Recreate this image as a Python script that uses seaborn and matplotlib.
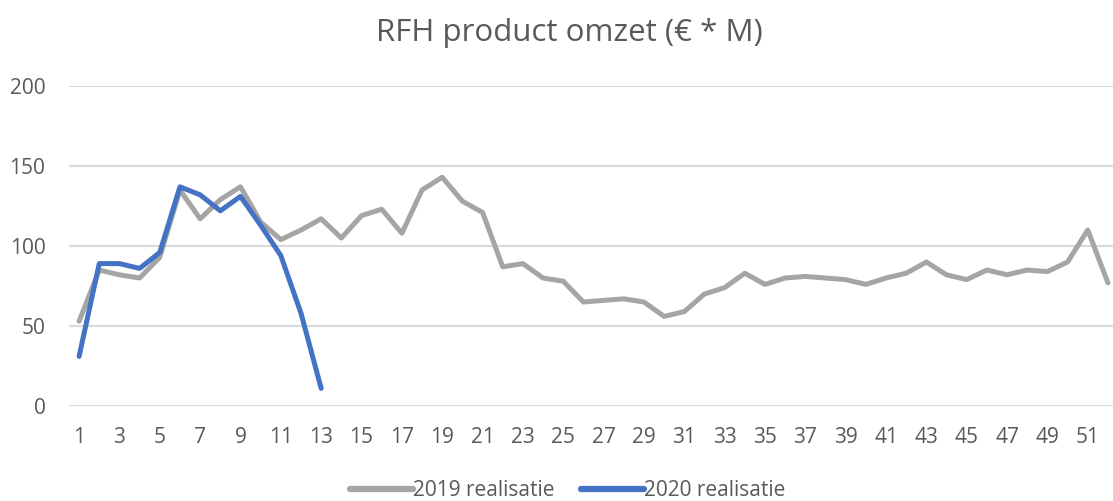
# RFH product omzet per week, 2019 vs 2020

# importing libraries
import matplotlib
matplotlib.use('Agg')
import matplotlib.pyplot as plt
import pandas as pd
import seaborn as sns

weeks = list(range(1, 53))

omzet_2019 = [53, 85, 82, 80, 93, 135, 117, 129, 137, 115,
              104, 110, 117, 105, 119, 123, 108, 135, 143, 128,
              121, 87, 89, 80, 78, 65, 66, 67, 65, 56,
              59, 70, 74, 83, 76, 80, 81, 80, 79, 76,
              80, 83, 90, 82, 79, 85, 82, 85, 84, 90,
              110, 77]

weeks_2020 = list(range(1, 14))
omzet_2020 = [31, 89, 89, 86, 96, 137, 132, 122, 131, 113, 94, 58, 11]

label_2019 = '2019 realisatie'
label_2020 = '2020 realisatie'
title = 'RFH product omzet (€ * M)'

df = pd.concat([
    pd.DataFrame({'Week': weeks, 'Omzet': omzet_2019, 'Jaar': label_2019}),
    pd.DataFrame({'Week': weeks_2020, 'Omzet': omzet_2020, 'Jaar': label_2020}),
])

sns.set_theme(style='white')
plt.rcParams['font.family'] = ['Open Sans', 'DejaVu Sans']
text_color = '#595959'
palette = {label_2019: '#A5A5A5', label_2020: '#4472C4'}

fig = plt.figure(figsize=(11.13, 5.01), dpi=100)
ax = fig.add_axes([0.062, 0.1896, 0.9425, 0.6387])

sns.lineplot(data=df, x='Week', y='Omzet', hue='Jaar', palette=palette,
             linewidth=3.6, ax=ax, legend=False, zorder=3)
for line in ax.lines:
    line.set_solid_capstyle('round')
    line.set_solid_joinstyle('round')

ax.set_xlim(0.5, 52.5)
ax.set_ylim(0, 200)
ax.set_yticks([0, 50, 100, 150, 200])
ax.set_xticks(weeks[::2])
ax.grid(axis='y', color='#D9D9D9', linewidth=1.5, zorder=0)
ax.grid(axis='x', visible=False)
for s in ax.spines.values():
    s.set_visible(False)
ax.tick_params(axis='both', length=0, labelsize=15, labelcolor=text_color)
ax.tick_params(axis='y', pad=17)
ax.tick_params(axis='x', pad=15)
ax.set_xlabel('')
ax.set_ylabel('')

fig.text(0.512, 0.935, title, ha='center', va='center', fontsize=22.5, color=text_color)

handles = [plt.Line2D([], [], color=palette[k], linewidth=4.5) for k in [label_2019, label_2020]]
fig.legend(handles, [label_2019, label_2020], loc='center', bbox_to_anchor=(0.51, 0.02),
           ncol=2, frameon=False, fontsize=15, labelcolor=text_color,
           handlelength=3.0, handletextpad=0.0, columnspacing=1.3)

fig.savefig('out.png', dpi=100)
